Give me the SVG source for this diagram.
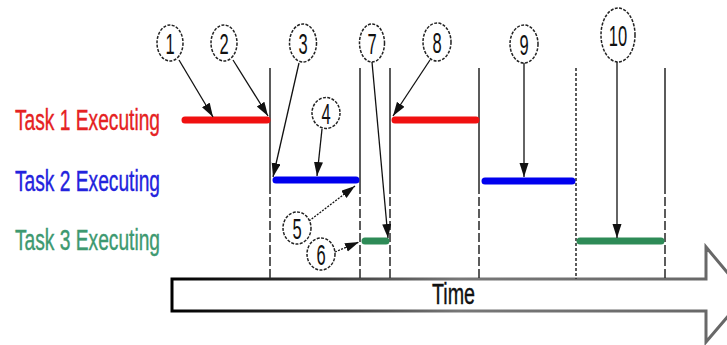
<svg xmlns="http://www.w3.org/2000/svg" width="727" height="345" viewBox="0 0 727 345">
  <defs>
    <style>
      .label { font-family: "Liberation Sans", Arial, sans-serif; font-size: 30px; stroke-width: 0.4; }
      .num { font-family: "Liberation Sans", Arial, sans-serif; font-size: 30px; fill: #111; text-anchor: middle; }
      .bubble { fill: #fff; stroke: #222; stroke-width: 1.5; stroke-dasharray: 3 1.4; }
      .ptr { stroke: #111; stroke-width: 1.3; fill: none; marker-end: url(#head); }
      .ptr-dot { stroke-dasharray: 2 1.3; }
      .tick { stroke: #333; stroke-width: 1.6; fill: none; }
      .tick-dash { stroke-dasharray: 9 3; }
      .tick-dot { stroke-dasharray: 3 2; }
      .bar { stroke-width: 7; stroke-linecap: round; fill: none; }
    </style>
    <marker id="head" markerUnits="userSpaceOnUse" markerWidth="16" markerHeight="10" refX="14" refY="4.5" orient="auto">
      <path d="M0,0 L14,4.5 L0,9 Z" fill="#111"/>
    </marker>
    <linearGradient id="timeEdge" x1="172" y1="0" x2="745" y2="0" gradientUnits="userSpaceOnUse">
      <stop offset="0" stop-color="#000"/>
      <stop offset="0.25" stop-color="#333"/>
      <stop offset="0.5" stop-color="#777"/>
      <stop offset="1" stop-color="#666"/>
    </linearGradient>
  </defs>

  <!-- time axis -->
  <g id="time-axis">
    <path d="M172,279 H706 V247 L746,295 L706,342 V311 H172 Z" fill="#fff" stroke="url(#timeEdge)" stroke-width="3"/>
    <text class="label" x="432" y="304" textLength="43" lengthAdjust="spacingAndGlyphs" fill="#111" stroke="#111">Time</text>
  </g>

  <!-- context switch markers -->
  <g id="switch-lines">
    <path class="tick" d="M270,68 V185 M360,68 V185 M390,68 V185 M479,68 V185 M665,68 V185"/>
    <path class="tick tick-dash" d="M270,185 V279 M360,185 V279 M390,185 V279 M479,185 V279 M665,185 V279"/>
    <path class="tick tick-dot" d="M576,68 V279"/>
  </g>

  <!-- task rows -->
  <g id="task1">
    <text class="label" x="15" y="130" textLength="145" lengthAdjust="spacingAndGlyphs" fill="#e52222" stroke="#e52222">Task 1 Executing</text>
    <path class="bar" stroke="#f01010" d="M185,120 H267 M395,120 H476"/>
  </g>
  <g id="task2">
    <text class="label" x="15" y="191" textLength="145" lengthAdjust="spacingAndGlyphs" fill="#2323dd" stroke="#2323dd">Task 2 Executing</text>
    <path class="bar" stroke="#0000ee" d="M276,180 H356 M485,181 H572"/>
  </g>
  <g id="task3">
    <text class="label" x="15" y="250" textLength="145" lengthAdjust="spacingAndGlyphs" fill="#3d9970" stroke="#3d9970">Task 3 Executing</text>
    <path class="bar" stroke="#2e8b57" d="M365,241 H386 M580,241 H661"/>
  </g>

  <!-- connectors -->
  <g id="connectors">
    <line class="ptr" x1="179" y1="60" x2="213" y2="117"/>
    <line class="ptr" x1="233" y1="60" x2="268" y2="116"/>
    <line class="ptr" x1="299" y1="63" x2="273" y2="177"/>
    <line class="ptr" x1="322" y1="129" x2="317" y2="176"/>
    <line class="ptr ptr-dot" x1="309" y1="221" x2="355" y2="186"/>
    <line class="ptr ptr-dot" x1="335" y1="252" x2="359" y2="242"/>
    <line class="ptr" x1="372" y1="62" x2="388" y2="238"/>
    <line class="ptr" x1="430" y1="60" x2="393" y2="116"/>
    <line class="ptr" x1="524" y1="63" x2="524" y2="177"/>
    <line class="ptr" x1="617" y1="62" x2="617" y2="238"/>
  </g>

  <!-- numbered callouts -->
  <g id="c1"><ellipse class="bubble" cx="170" cy="43" rx="13" ry="18"/><text class="num" transform="translate(170,54) scale(0.55,1)">1</text></g>
  <g id="c2"><ellipse class="bubble" cx="224" cy="43" rx="13" ry="18"/><text class="num" transform="translate(224,54) scale(0.55,1)">2</text></g>
  <g id="c3"><ellipse class="bubble" cx="303" cy="43" rx="13.5" ry="19"/><text class="num" transform="translate(303,54) scale(0.55,1)">3</text></g>
  <g id="c4"><ellipse class="bubble" cx="326" cy="113" rx="14" ry="15.5"/><text class="num" transform="translate(326,124) scale(0.55,1)">4</text></g>
  <g id="c5"><ellipse class="bubble" cx="297" cy="228" rx="14" ry="16"/><text class="num" transform="translate(297,239) scale(0.55,1)">5</text></g>
  <g id="c6"><ellipse class="bubble" cx="321" cy="254" rx="14" ry="16"/><text class="num" transform="translate(321,265) scale(0.55,1)">6</text></g>
  <g id="c7"><ellipse class="bubble" cx="372" cy="43" rx="12.5" ry="19"/><text class="num" transform="translate(372,54) scale(0.55,1)">7</text></g>
  <g id="c8"><ellipse class="bubble" cx="437" cy="42" rx="14" ry="19"/><text class="num" transform="translate(437,53) scale(0.55,1)">8</text></g>
  <g id="c9"><ellipse class="bubble" cx="524" cy="44" rx="14" ry="19"/><text class="num" transform="translate(524,55) scale(0.55,1)">9</text></g>
  <g id="c10"><ellipse class="bubble" cx="618" cy="35" rx="17" ry="27"/><text class="num" transform="translate(618,46) scale(0.55,1)">10</text></g>
</svg>
